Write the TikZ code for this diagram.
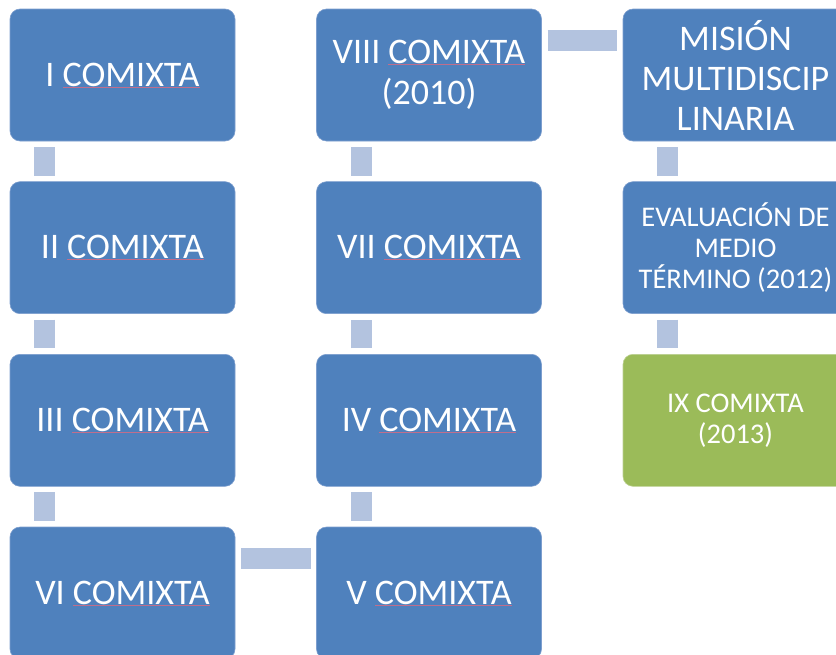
\documentclass[tikz,border=0pt]{standalone}
\usepackage{fontspec}
\setmainfont{Carlito}
\definecolor{boxblue}{RGB}{79,129,189}
\definecolor{boxedge}{RGB}{125,158,206}
\definecolor{boxgreen}{RGB}{155,187,89}
\definecolor{greenedge}{RGB}{188,208,146}
\definecolor{connfill}{RGB}{179,195,223}
\definecolor{sqcol}{RGB}{192,110,140}
\newcommand\spellmark[1]{\setbox0\hbox{#1}\rlap{\textcolor{sqcol}{\rule[-1.2pt]{\wd0}{0.6pt}}}\box0}
\tikzset{
  stage/.style={rectangle, rounded corners=10pt, fill=boxblue, draw=boxedge,
    line width=0.6pt, text=white, minimum width=225pt, minimum height=132pt,
    inner sep=0pt, outer sep=0pt, anchor=north west, align=center,
    font=\fontsize{36}{41}\selectfont},
  smalltext/.style={font=\fontsize{28.5}{31}\selectfont},
  finalstage/.style={stage, fill=boxgreen, draw=greenedge, smalltext},
  link/.style={draw=connfill, line width=21pt, shorten <=6pt, shorten >=6pt},
}
\begin{document}
\begin{tikzpicture}[x=1pt,y=-1pt]
\useasboundingbox (0,0) rectangle (836,654);
\clip (0,0) rectangle (836,654);
% column 1
\node[stage] (n1) at (10,9)      {I \spellmark{COMIXTA}};
\node[stage] (n2) at (10,181.67) {II \spellmark{COMIXTA}};
\node[stage] (n3) at (10,354.33) {III \spellmark{COMIXTA}};
\node[stage] (n6) at (10,527)    {VI \spellmark{COMIXTA}};
% column 2
\node[stage] (n8) at (316.5,9)      {VIII \spellmark{COMIXTA}\\(2010)};
\node[stage] (n7) at (316.5,181.67) {VII \spellmark{COMIXTA}};
\node[stage] (n4) at (316.5,354.33) {IV \spellmark{COMIXTA}};
\node[stage] (n5) at (316.5,527)    {V \spellmark{COMIXTA}};
% column 3
\node[stage, font=\fontsize{36}{40}\selectfont] (mm) at (623,9) {MISIÓN\\MULTIDISCIP\\LINARIA};
\node[stage, smalltext] (ev) at (623,181.67) {EVALUACIÓN DE\\MEDIO\\TÉRMINO (2012)};
\node[finalstage] (n9) at (623,354.33) {IX COMIXTA\\(2013)};
% connectors
\draw[link] ([xshift=34.5pt]n1.south west) -- ([xshift=34.5pt]n2.north west);
\draw[link] ([xshift=34.5pt]n2.south west) -- ([xshift=34.5pt]n3.north west);
\draw[link] ([xshift=34.5pt]n3.south west) -- ([xshift=34.5pt]n6.north west);
\draw[link] ([yshift=-31.5pt]n6.north east) -- ([yshift=-31.5pt]n5.north west);
\draw[link] ([xshift=44.5pt]n5.north west) -- ([xshift=44.5pt]n4.south west);
\draw[link] ([xshift=44.5pt]n4.north west) -- ([xshift=44.5pt]n7.south west);
\draw[link] ([xshift=44.5pt]n7.north west) -- ([xshift=44.5pt]n8.south west);
\draw[link] ([yshift=-31.5pt]n8.north east) -- ([yshift=-31.5pt]mm.north west);
\draw[link] ([xshift=44.5pt]mm.south west) -- ([xshift=44.5pt]ev.north west);
\draw[link] ([xshift=44.5pt]ev.south west) -- ([xshift=44.5pt]n9.north west);
\end{tikzpicture}
\end{document}
